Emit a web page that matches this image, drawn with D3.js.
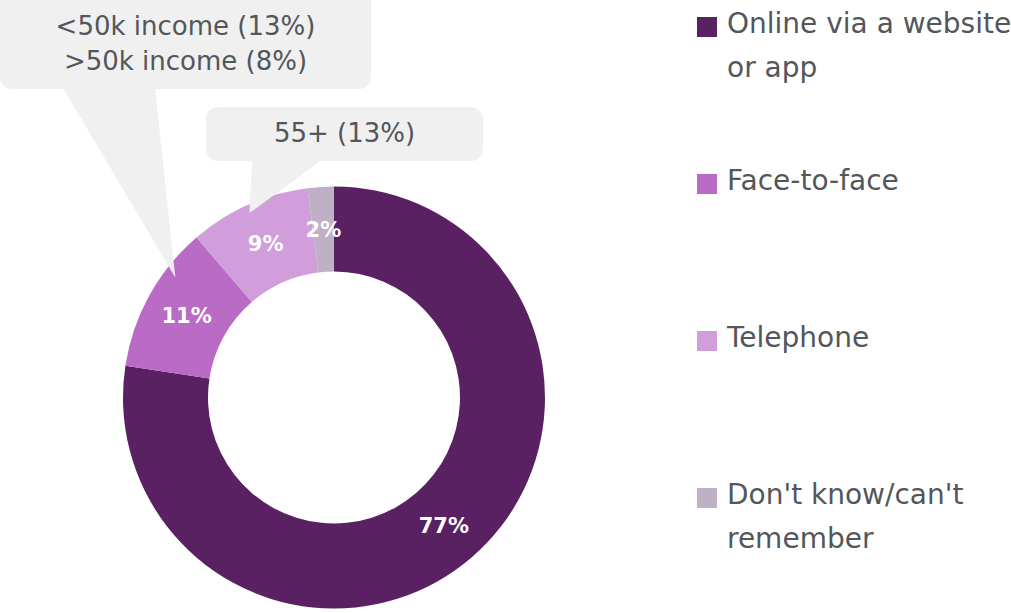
<!DOCTYPE html>
<html>
<head>
<meta charset="utf-8">
<script src="https://cdn.jsdelivr.net/npm/d3@7"></script>
<style>
  body { margin: 0; background: #fff; }
  svg { display: block; font-family: "DejaVu Sans", Verdana, sans-serif; }
</style>
</head>
<body>
<svg id="chart" width="1011" height="613"></svg>
<script>
// 数据
const categories = ["Online via a website or app", "Face-to-face", "Telephone", "Don't know/can't remember"];
const legendLines = [["Online via a website", "or app"], ["Face-to-face"], ["Telephone"], ["Don't know/can't", "remember"]];
const values = [77.4, 11.3, 9.3, 2.0];
const colors = ["#5a2162", "#b96bc6", "#d19ddb", "#bfb0c6"];

// 注释框
const callouts = [
    {slice: 1, frac: 0.70, lines: ["<50k income (13%)", ">50k income (8%)"]},
    {slice: 2, frac: 0.48, lines: ["55+ (13%)"]}
];

let svg = d3.select("#chart");

let cx = 334, cy = 397.5;
let outerR = 211, innerR = 126;

let pie = d3.pie().sort(null).value(d => d);
let arcs = pie(values);
let arc = d3.arc().innerRadius(innerR).outerRadius(outerR);

let g = svg.append("g").attr("transform", "translate(" + cx + "," + cy + ")");

g.selectAll("path")
    .data(arcs)
    .enter()
    .append("path")
    .attr("d", arc)
    .attr("fill", (d, i) => colors[i]);

g.selectAll("text.pct")
    .data(arcs)
    .enter()
    .append("text")
    .attr("class", "pct")
    .attr("transform", d => "translate(" + arc.centroid(d) + ")")
    .attr("text-anchor", "middle")
    .attr("dy", "0.36em")
    .attr("fill", "#fff")
    .attr("font-size", 21)
    .attr("font-weight", "bold")
    .text(d => Math.round(d.data) + "%");

// 注释框位置（布局）
let boxes = [
    {x: 0, y: -12, w: 371, h: 101, b0: 63, b1: 155, tipR: 199, textY: 35, lh: 35},
    {x: 206, y: 107, w: 277, h: 54, b0: 252, b1: 322, tipR: 203, textY: 142, lh: 35}
];

callouts.forEach((c, i) => {
    let b = boxes[i];
    let a = arcs[c.slice];
    let ang = a.startAngle + (a.endAngle - a.startAngle) * c.frac;
    let tx = cx + b.tipR * Math.sin(ang);
    let ty = cy - b.tipR * Math.cos(ang);

    let cg = svg.append("g");
    cg.append("rect")
        .attr("x", b.x).attr("y", b.y)
        .attr("width", b.w).attr("height", b.h)
        .attr("rx", 12)
        .attr("fill", "#f0f0f0");
    cg.append("path")
        .attr("d", "M" + b.b0 + "," + (b.y + b.h - 1) + "L" + b.b1 + "," + (b.y + b.h - 1) + "L" + tx + "," + ty + "Z")
        .attr("fill", "#f0f0f0");
    c.lines.forEach((t, j) => {
        cg.append("text")
            .attr("x", b.x + b.w / 2)
            .attr("y", b.textY + j * b.lh)
            .attr("text-anchor", "middle")
            .attr("fill", "#53565a")
            .attr("font-size", 26)
            .text(t);
    });
});

// 图例
let legend = svg.append("g").attr("transform", "translate(697,0)");
let baseY = d3.scaleLinear().domain([0, 3]).range([33, 504]);

categories.forEach((c, i) => {
    let y = baseY(i);
    legend.append("rect")
        .attr("x", 0).attr("y", y - 16)
        .attr("width", 20).attr("height", 20)
        .attr("fill", colors[i]);
    legendLines[i].forEach((t, j) => {
        legend.append("text")
            .attr("x", 30)
            .attr("y", y + j * 44)
            .attr("fill", "#53565a")
            .attr("font-size", 28)
            .text(t);
    });
});
</script>
</body>
</html>
